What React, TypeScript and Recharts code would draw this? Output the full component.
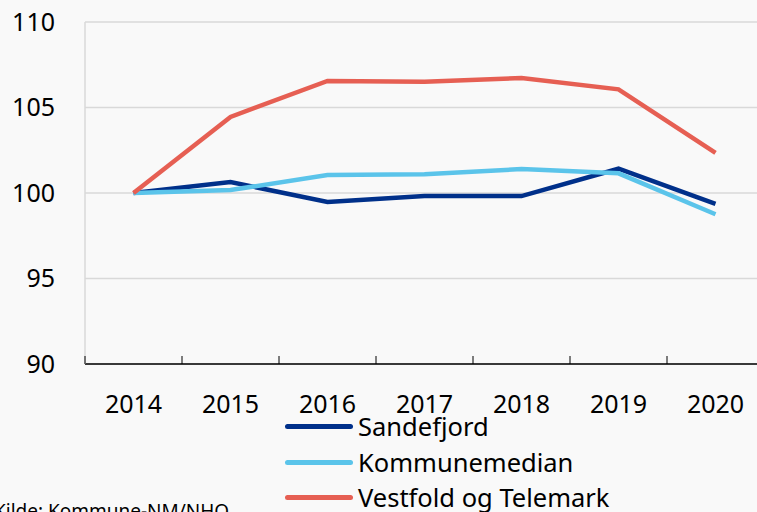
import React from 'react';
import { LineChart, Line, XAxis, YAxis, CartesianGrid } from 'recharts';

const years = ['2014', '2015', '2016', '2017', '2018', '2019', '2020'];
const sandefjord = [100, 100.64, 99.47, 99.82, 99.82, 101.42, 99.36];
const kommunemedian = [100, 100.17, 101.05, 101.1, 101.4, 101.15, 98.76];
const vestfold = [100, 104.45, 106.55, 106.5, 106.72, 106.06, 102.35];
const yTicks = [90, 95, 100, 105, 110];

const series = [
  { key: 'sandefjord', name: 'Sandefjord', color: '#00308a' },
  { key: 'kommunemedian', name: 'Kommunemedian', color: '#5bc4ea' },
  { key: 'vestfold', name: 'Vestfold og Telemark', color: '#e65f53' },
];

const data = years.map((year, i) => ({
  year,
  sandefjord: sandefjord[i],
  kommunemedian: kommunemedian[i],
  vestfold: vestfold[i],
}));

const FONT = '"Noto Sans", "DejaVu Sans", sans-serif';
const CHART_W = 770;
const Y_W = 85;
const RIGHT = 6;
const BAND = (CHART_W - Y_W - RIGHT) / years.length;

// label under the band centre, tick mark on the band's left boundary
const YearTick = (props: any) => {
  const { x, y, payload } = props;
  return (
    <g>
      <line x1={x - BAND / 2} x2={x - BAND / 2} y1={y} y2={y - 8} stroke="#000" strokeWidth={1} />
      <text x={x} y={y + 49} textAnchor="middle" fontSize={25} fontFamily={FONT} fill="#000">
        {payload.value}
      </text>
    </g>
  );
};

const App = () => {
  return (
    <div
      style={{
        position: 'absolute',
        left: 0,
        top: 0,
        width: 757,
        height: 512,
        overflow: 'hidden',
        background: '#f9f9f9',
        fontFamily: FONT,
      }}
    >
      <LineChart width={CHART_W} height={512} data={data} margin={{ top: 22, right: RIGHT, bottom: 0, left: 0 }}>
        <CartesianGrid vertical={false} stroke="#d9d9d9" strokeWidth={1.5} />
        <XAxis
          dataKey="year"
          scale="band"
          height={148}
          tickSize={0}
          tickMargin={0}
          axisLine={{ stroke: '#000', strokeWidth: 1.5 }}
          tickLine={false}
          tick={<YearTick />}
          interval={0}
        />
        <YAxis
          width={Y_W}
          domain={[90, 110]}
          ticks={yTicks}
          tickSize={0}
          tickMargin={30}
          axisLine={{ stroke: '#d9d9d9', strokeWidth: 1.5 }}
          tickLine={false}
          tick={{ fontSize: 25, fill: '#000', fontFamily: FONT }}
        />
        {series.map(s => (
          <Line
            key={s.key}
            dataKey={s.key}
            name={s.name}
            stroke={s.color}
            strokeWidth={4.5}
            dot={false}
            type="linear"
            isAnimationActive={false}
          />
        ))}
      </LineChart>
      <div style={{ position: 'absolute', left: 285, top: 409 }}>
        {series.map(s => (
          <div key={s.key} style={{ display: 'flex', alignItems: 'center', height: 35.5 }}>
            <div style={{ width: 68, height: 5, borderRadius: 3, background: s.color, marginRight: 5 }} />
            <span style={{ fontSize: 25.5, color: '#000', lineHeight: '35px' }}>{s.name}</span>
          </div>
        ))}
      </div>
      <div style={{ position: 'absolute', left: -6, top: 498, fontSize: 19, color: '#000', whiteSpace: 'nowrap' }}>
        Kilde: Kommune-NM/NHO
      </div>
    </div>
  );
};

export default App;
